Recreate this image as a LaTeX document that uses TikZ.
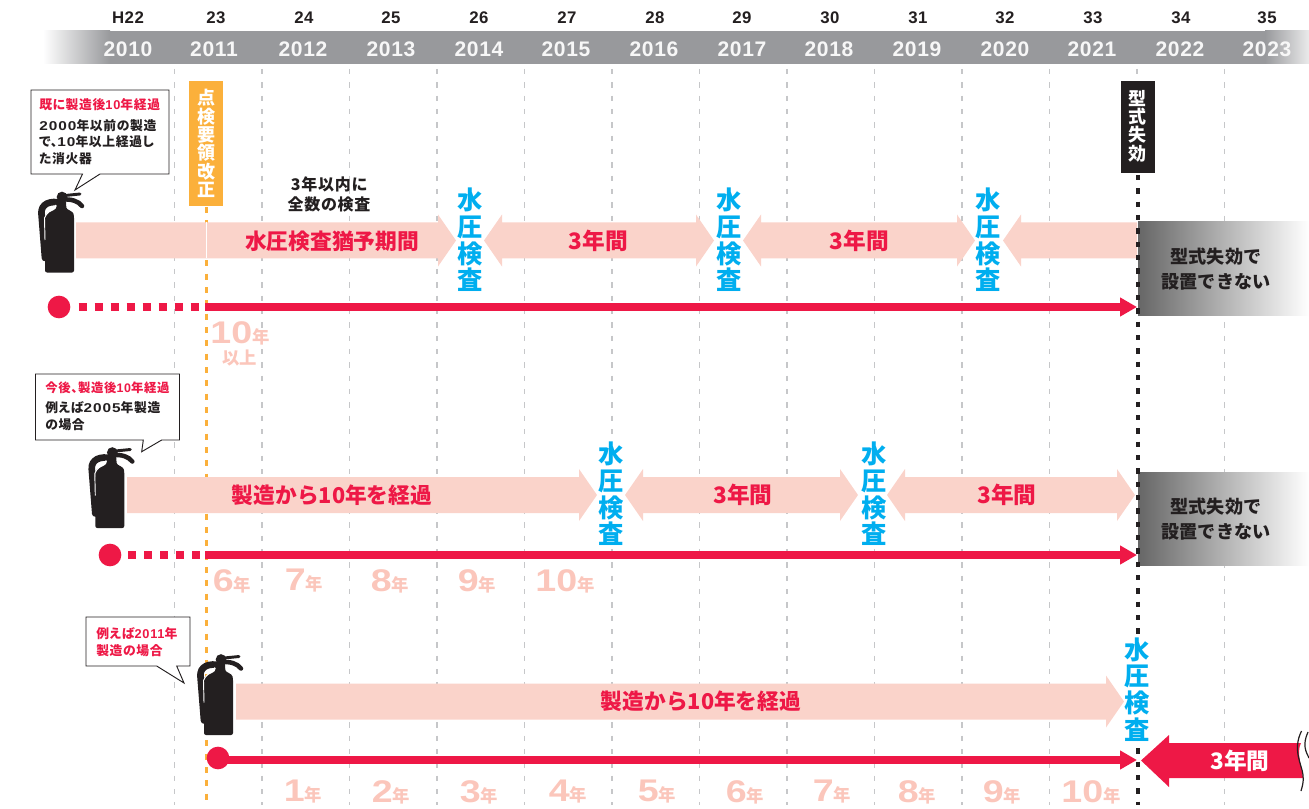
\documentclass[tikz,border=0pt]{standalone}
\usepackage{fontspec}
\setmainfont{Liberation Sans}
\newfontfamily\jpfont{Noto Sans CJK JP}
\newfontfamily\jpwide[LetterSpace=5,RawFeature=+palt]{Noto Sans CJK JP}
\newfontfamily\latinwide[LetterSpace=3]{Liberation Sans}
\newfontfamily\latinnote[LetterSpace=6]{Liberation Sans}
\newfontfamily\latinbody[FakeStretch=1.2,LetterSpace=8]{Liberation Sans}
\newfontfamily\latinbroad[FakeStretch=1.2]{Liberation Sans}
\usetikzlibrary{arrows.meta}
\definecolor{bandgray}{HTML}{98999C}
\definecolor{paleband}{HTML}{FAD3CA}
\definecolor{palenum}{HTML}{FBC6BB}
\definecolor{redmain}{HTML}{EE1846}
\definecolor{bluemain}{HTML}{00AEEF}
\definecolor{orangemain}{HTML}{FBB03B}
\definecolor{inkmain}{HTML}{231F20}
\definecolor{gridgray}{HTML}{C6C7C9}
\tikzset{
  extinguisher/.pic={
    \draw[inkmain,line width=5pt,line cap=round] (24,11) .. controls (12,8) and (2.5,12) .. (3.5,22) -- (7,66);
    \fill[inkmain,rounded corners=1.5pt] (7,25) .. controls (8,21) and (16,19) .. (19,15) -- (19,8) -- (28,8) -- (28,14) .. controls (29,18) and (35,19) .. (36,24) -- (36,80.5) -- (7,80.5) -- cycle;
    \draw[white,line width=0.7pt] (7,48) -- (6.5,26) .. controls (8,21) and (14,18) .. (18,13);
    \fill[inkmain] (24,5) circle[radius=4pt];
    \draw[inkmain,line width=2.2pt,line cap=round] (27,3.5) -- (42,2);
    \draw[inkmain,line width=3.4pt,line cap=round] (24,7.5) .. controls (34,7) and (40,9) .. (44,14);
  },
  yeartext/.style={inner sep=0pt,text=white!92!bandgray,font=\latinwide\bfseries\fontsize{15.8}{16}\selectfont},
  eratext/.style={inner sep=0pt,text=inkmain,font=\latinwide\bfseries\fontsize{12.6}{13}\selectfont},
  testtext/.style={inner sep=0.5pt,fill=white,text=bluemain,align=center,font=\jpfont\bfseries\fontsize{19}{20}\selectfont},
  tagtext/.style={inner sep=0pt,text=white,align=center,font=\jpfont\bfseries\fontsize{13.5}{13.75}\selectfont},
  spantext/.style={inner sep=0pt,text=redmain,font=\jpfont\bfseries\fontsize{16.3}{17}\selectfont},
  spanshort/.style={inner sep=0pt,text=redmain,font=\jpfont\bfseries\fontsize{17}{18}\selectfont},
  voidtext/.style={inner sep=0pt,text=inkmain,align=center,font=\jpfont\bfseries\fontsize{13.6}{19}\selectfont},
  noteline/.style={anchor=west,inner sep=0pt,font=\jpwide\bfseries\fontsize{9.6}{12.4}\selectfont,align=left},
  noteshort/.style={noteline,font=\jpwide\bfseries\fontsize{9.3}{12.4}\selectfont},
  numtext/.style={inner sep=0pt,text=palenum},
  balloon/.style={draw=inkmain,fill=white,line width=0.7pt},
  dotline/.style={redmain,line width=6pt,dash pattern=on 6pt off 6pt},
  redline/.style={redmain,line width=6pt,-{Triangle[length=12.75pt,width=13.5pt]}},
  redspot/.style={circle,fill=redmain,inner sep=0pt,minimum size=17pt},
  griddash/.style={gridgray,line width=0.8pt,dash pattern=on 4pt off 6pt},
}
\newcommand{\numyear}[1]{{\latinbroad\bfseries\fontsize{23.5}{25}\selectfont #1}{\jpfont\bfseries\fontsize{13}{14}\selectfont 年}}
\newcommand{\notedigits}[1]{{\latinnote\bfseries #1}}
\newcommand{\bodydigits}[1]{{\latinbody\bfseries #1}}
\begin{document}
\begin{tikzpicture}[x=0.75pt,y=-0.75pt]
\useasboundingbox (0,0) rectangle (1309,809);
\shade[left color=white,right color=bandgray] (43,31) rectangle (110,64);
\fill[bandgray] (110,31) rectangle (1265,64);
\shade[left color=bandgray,right color=white!80!bandgray] (1265,31) rectangle (1309,64);
\foreach \i/\yr/\era/\x/\xe in {0/2010/H22/128/128,1/2011/23/214/216,2/2012/24/303/304,3/2013/25/391/391,4/2014/26/479/479,5/2015/27/566/567,6/2016/28/654/655,7/2017/29/742/742,8/2018/30/829/830,9/2019/31/917/918,10/2020/32/1005/1005,11/2021/33/1092/1093,12/2022/34/1180/1181,13/2023/35/1267/1267} {
  \node[eratext] (H_\i) at (\xe,18) {\era};
  \node[yeartext] (Y_\i) at (\x,49.5) {\yr};
}
\foreach \x in {174.5,262,349.5,437,524.5,612,699.5,787,874.5,962,1049.5,1224.7} {
  \draw[griddash] (\x,69) -- (\x,805);
}
\draw[griddash] (1137,69) -- (1137,80);
\draw[orangemain,line width=2.2pt,dash pattern=on 4.5pt off 5.5pt] (206.5,207) -- (206.5,800);
\foreach \a/\b/\y in {484/714/240.5,743/975/240.5,625/858/495,887/1135/495} {
  \fill[paleband] (\a,\y) -- (\a+18,\y-26) -- (\a+18,\y-18) -- (\b-18,\y-18) -- (\b-18,\y-26) -- (\b,\y) -- (\b-18,\y+26) -- (\b-18,\y+18) -- (\a+18,\y+18) -- (\a+18,\y+26) -- cycle;
}
\foreach \a/\b/\y in {76/456/240.5,127/597/495,236/1124/701.5} {
  \fill[paleband] (\a,\y-18) -- (\b-18,\y-18) -- (\b-18,\y-26) -- (\b,\y) -- (\b-18,\y+26) -- (\b-18,\y+18) -- (\a,\y+18) -- cycle;
}
\fill[paleband] (1003,240.5) -- (1021,214.5) -- (1021,222.5) -- (1137,222.5) -- (1137,258.5) -- (1021,258.5) -- (1021,266.5) -- cycle;
\draw[white,line width=0.6pt] (206.5,222.5) -- (206.5,258.5);
\shade[left color=black!60,middle color=black!25,right color=white] (1138,222) rectangle (1309,315);
\shade[left color=black!60,middle color=black!25,right color=white] (1138,472) rectangle (1309,565);
\draw[inkmain,line width=2.4pt,dash pattern=on 4pt off 6pt] (1138,175) -- (1138,805);
\node[fill=orangemain,minimum width=25.5pt,minimum height=93.75pt,inner sep=0pt] (T_0) at (206,143.5) {};
\node[tagtext] (T_0_t) at (206,143.5) {点\\検\\要\\領\\改\\正};
\node[fill=inkmain,minimum width=25.5pt,minimum height=69pt,inner sep=0pt] (T_1) at (1137.5,127) {};
\node[tagtext] (T_1_t) at (1137.5,126) {型\\式\\失\\効};
\pic at (38,192) {extinguisher};
\pic at (88.3,447.5) {extinguisher};
\pic at (197,654.5) {extinguisher};
\node[redspot] (C_0) at (59,307) {};
\coordinate (S_0) at (205,307);
\coordinate (E_0) at (1137,307);
\draw[dotline,shorten <=6pt] (C_0) -- (S_0);
\draw[redline] (S_0) -- (E_0);
\node[redspot] (C_1) at (110,555) {};
\coordinate (S_1) at (205,555);
\coordinate (E_1) at (1137,555);
\draw[dotline,shorten <=5pt] (C_1) -- (S_1);
\draw[redline] (S_1) -- (E_1);
\node[redspot] (C_2) at (218,758) {};
\coordinate (E_2) at (1137,760);
\draw[redline] (218,760) -- (E_2);
\node[spantext] (L_0) at (332,241) {水圧検査猶予期間};
\node[spanshort] (L_1) at (598.5,241) {3年間};
\node[spanshort] (L_2) at (859.5,241) {3年間};
\node[spantext] (L_3) at (332,495) {製造から10年を経過};
\node[spanshort] (L_4) at (743,495) {3年間};
\node[spanshort] (L_5) at (1007,495) {3年間};
\node[spantext] (L_6) at (701,701) {製造から10年を経過};
\foreach \i/\x/\y in {0/470/240,1/729/240,2/988/240,3/611/494,4/874/494,5/1137/689.5} {
  \node[testtext] (W_\i) at (\x,\y) {水\\圧\\検\\査};
}
\node[inner sep=0pt,align=center,text=inkmain,font=\jpwide\bfseries\fontsize{12}{15}\selectfont] (N_0) at (329,194) {3年以内に\\全数の検査};
\node[voidtext] (V_0) at (1216,269) {型式失効で\\設置できない};
\node[voidtext] (V_1) at (1216,519) {型式失効で\\設置できない};
\fill[redmain] (1141,760.5) -- (1169,735) -- (1169,743) -- (1301,743) .. controls (1296,752) and (1302,768) .. (1303,778) -- (1169,778) -- (1169,787) -- cycle;
\draw[inkmain,line width=0.9pt] (1301.5,731) .. controls (1292,750) and (1302,765) .. (1303,775) .. controls (1304,782) and (1302,787) .. (1301,791);
\draw[inkmain,line width=0.9pt] (1308,732) .. controls (1302,745) and (1306,752) .. (1309,758);
\node[inner sep=0pt,text=white,font=\jpfont\bfseries\fontsize{17}{18}\selectfont] (L_7) at (1240,761) {3年間};
\draw[balloon] (31,90) -- (169,90) -- (169,174) -- (100,174) -- (75,190) -- (82.5,174) -- (31,174) -- cycle;
\node[noteline,text=redmain] (B_0_a) at (39,105) {既に製造後\notedigits{10}年経過};
\node[noteline,text=inkmain] (B_0_b) at (39,142) {\bodydigits{2000}年以前の製造\\で、\bodydigits{10}年以上経過し\\た消火器};
\draw[balloon] (35.5,374) -- (179.5,374) -- (179.5,440) -- (161.7,440) -- (141.7,451.7) -- (143.3,440) -- (35.5,440) -- cycle;
\node[noteshort,text=redmain] (B_1_a) at (45,388) {今後、製造後\notedigits{10}年経過};
\node[noteline,text=inkmain] (B_1_b) at (45,416) {例えば\bodydigits{2005}年製造\\の場合};
\draw[balloon] (86,617) -- (190,617) -- (190,666) -- (176.7,666) -- (184,683) -- (156.7,666) -- (86,666) -- cycle;
\node[noteline,text=redmain] (B_2_a) at (96,642) {例えば\notedigits{2011}年\\製造の場合};
\node[numtext] (A_0) at (240,333) {\numyear{10}};
\node[numtext,font=\jpfont\bfseries\fontsize{13}{14}\selectfont] (A_0_b) at (239.5,358) {以上};
\foreach \i/\n/\x in {1/6/232,2/7/304,3/8/390,4/9/477,5/10/565} {
  \node[numtext] (A_\i) at (\x,581) {\numyear{\n}};
}
\foreach \i/\n/\x in {1/1/303,2/2/391,3/3/479,4/4/568,5/5/657,6/6/745,7/7/832,8/8/917,9/9/1002,10/10/1091} {
  \node[numtext] (D_\i) at (\x,792) {\numyear{\n}};
}
\end{tikzpicture}
\end{document}
